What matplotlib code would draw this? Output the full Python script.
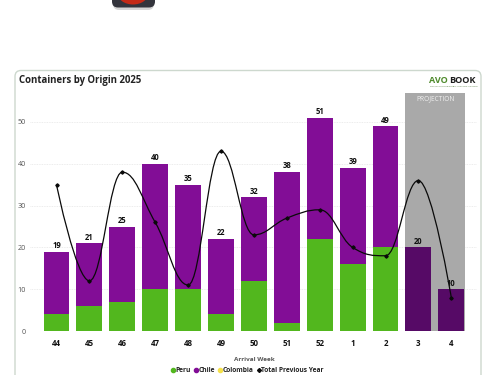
import matplotlib
matplotlib.use("Agg")
import matplotlib.pyplot as plt
import numpy as np
from matplotlib.lines import Line2D
from matplotlib.patches import FancyBboxPatch, Ellipse, PathPatch
from matplotlib.path import Path

plt.rcParams['font.family'] = ['Open Sans', 'DejaVu Sans']

weeks = ['44','45','46','47','48','49','50','51','52','1','2','3','4']
peru = [4,6,7,10,10,4,12,2,22,16,20,0,0]
chile = [15,15,18,30,25,18,20,36,29,23,29,0,0]
projected = [0,0,0,0,0,0,0,0,0,0,0,20,10]
labels = [19,21,25,40,35,22,32,38,51,39,49,20,10]
previous = [35,12,38,26,11,43,23,27,29,20,18,36,8]

GREEN, PURPLE, DARK, YELLOW = '#52B71E', '#820D96', '#560A66', '#F5E14B'
W, H = 500, 375
fig = plt.figure(figsize=(5, 3.75), dpi=100, facecolor='white')

# page layer in pixel coordinates
bg = fig.add_axes([0, 0, 1, 1])
bg.set_xlim(0, W); bg.set_ylim(H, 0); bg.axis('off')
bg.add_patch(FancyBboxPatch((15, 70.5), 466, 330, boxstyle='round,pad=0,rounding_size=6',
                            fc='white', ec='#CDD8CE', lw=1))
# cropped button at the top
bg.add_patch(FancyBboxPatch((113, -12), 41, 22, boxstyle='round,pad=0,rounding_size=6',
                            fc='#B9B9B9', ec='none', alpha=.6))
bg.add_patch(FancyBboxPatch((112, -12), 43, 19.5, boxstyle='round,pad=0,rounding_size=6',
                            fc='#33343C', ec='none'))
bg.add_patch(Ellipse((133, -6), 30, 21, fc='#C42A17', ec='none'))
bg.text(19, 80, 'Containers by Origin 2025', fontsize=6.9, fontweight='bold',
        color='#222222', va='center', ha='left')
bg.text(429, 82.8, 'AVO', fontsize=6.5, fontweight='bold', color='#4E8A2B', va='baseline', ha='left')
bg.text(449.5, 82.8, 'BOOK', fontsize=6.6, fontweight='bold', color='#1D1D1D', va='baseline', ha='left')
bg.text(430, 86.4, 'CONNECTING THE GLOBAL AVOCADO INDUSTRY', fontsize=1.5,
        color='#3F6B2A', va='center', ha='left')

# chart axes
x0, x1, ytop, ybot = 30, 477, 93.3, 331
ax = fig.add_axes([x0/W, 1-ybot/H, (x1-x0)/W, (ybot-ytop)/H])
ax.patch.set_alpha(0)
step = 32.9
ax.set_xlim((x0-56.5)/step, (x1-56.5)/step)
ax.set_ylim(0, (ybot-ytop)/4.18)
x = np.arange(len(weeks))

ax.axvspan(10.59, 12.43, color='#A9A9A9', lw=0, zorder=1)
ax.text(11.51, 55.5, 'PROJECTION', color='#F0F0F0', fontsize=4.8, ha='center', va='center', zorder=5)

bw = 0.79
ax.bar(x, peru, bw, color=GREEN, zorder=3)
ax.bar(x, chile, bw, bottom=peru, color=PURPLE, zorder=3)
ax.bar(x, projected, bw, color=DARK, zorder=3)
for xi, v in zip(x, labels):
    ax.annotate(str(v), (xi, v), xytext=(0, 1.2), textcoords='offset points', ha='center', va='bottom',
                fontsize=5.5, fontweight='bold', color='#111111', zorder=7)

# spline through previous-year values
sm, dn = 1.5, 2.5
px, py = x.astype(float), np.array(previous, float)
lc, rc = [None]*len(px), [None]*len(px)
for i in range(1, len(px)-1):
    lx = (sm*px[i]+px[i-1])/dn; ly = (sm*py[i]+py[i-1])/dn
    rx = (sm*px[i]+px[i+1])/dn; ry = (sm*py[i]+py[i+1])/dn
    c = (ry-ly)*(rx-px[i])/(rx-lx)+py[i]-ry
    ly += c; ry += c
    hi, lo = max(py[i-1], py[i]), min(py[i-1], py[i])
    if ly > hi: ly, ry = hi, 2*py[i]-hi
    elif ly < lo: ly, ry = lo, 2*py[i]-lo
    hi, lo = max(py[i+1], py[i]), min(py[i+1], py[i])
    if ry > hi: ry, ly = hi, 2*py[i]-hi
    elif ry < lo: ry, ly = lo, 2*py[i]-lo
    lc[i], rc[i] = (lx, ly), (rx, ry)
verts, codes = [(px[0], py[0])], [Path.MOVETO]
for i in range(1, len(px)):
    a = rc[i-1] or (px[i-1], py[i-1])
    b = lc[i] or (px[i], py[i])
    verts += [a, b, (px[i], py[i])]; codes += [Path.CURVE4]*3
ax.add_patch(PathPatch(Path(verts, codes), fc='none', ec='#0A0A0A', lw=0.9, zorder=6))
ax.plot(x, previous, ls='none', marker='D', ms=1.7, color='#0A0A0A', zorder=6)

ax.set_yticks([0,10,20,30,40,50])
ax.set_xticks(x, weeks)
ax.grid(axis='y', color='#E6E6E6', lw=.6, ls=(0,(1,1)), zorder=0)
ax.set_axisbelow(True)
for s in ax.spines.values(): s.set_visible(False)
ax.tick_params(length=0)
ax.tick_params(axis='y', labelsize=5.2, labelcolor='#555555', pad=3)
ax.tick_params(axis='x', labelsize=5.7, labelcolor='#111111', pad=5.5)
for t in ax.get_xticklabels(): t.set_fontweight('bold')

bg.text(254, 359.5, 'Arrival Week', fontsize=4.6, fontweight='bold', color='#555555', ha='center', va='center')
handles = [Line2D([], [], ls='none', marker='o', ms=3, color=GREEN, label='Peru'),
           Line2D([], [], ls='none', marker='o', ms=3, color=PURPLE, label='Chile'),
           Line2D([], [], ls='none', marker='o', ms=3, color=YELLOW, label='Colombia'),
           Line2D([], [], ls='none', marker='D', ms=2, color='#0A0A0A', label='Total Previous Year')]
fig.legend(handles=handles, loc='center', bbox_to_anchor=(247.5/W, 1-370.5/H), ncol=4, frameon=False,
           prop={'size':4.8, 'weight':'bold'}, labelcolor='#222222', handlelength=.6, handletextpad=.1,
           columnspacing=.45, borderpad=0)
fig.savefig('out.png', dpi=100)
